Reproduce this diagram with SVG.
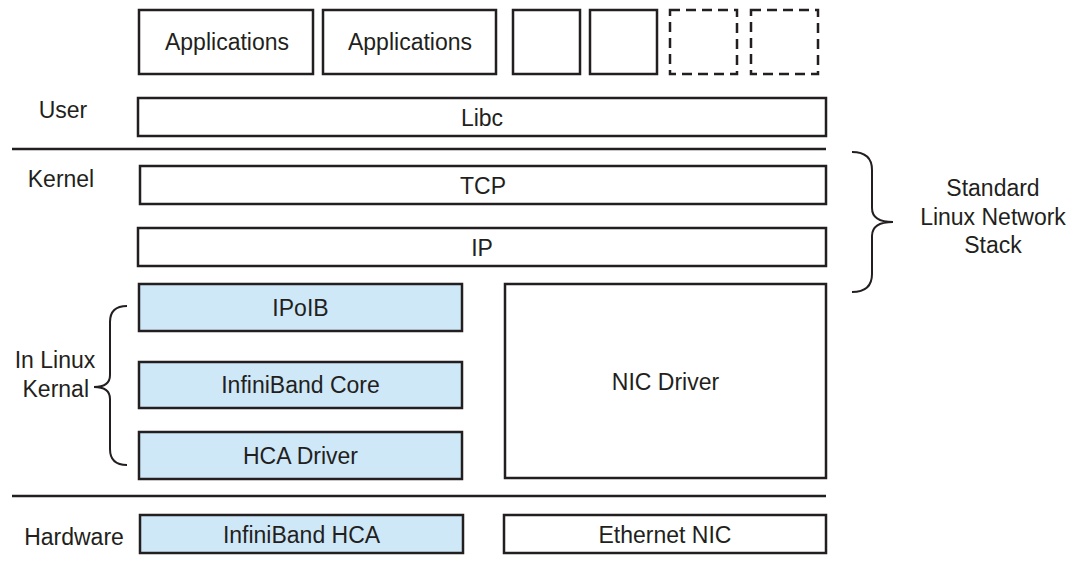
<svg xmlns="http://www.w3.org/2000/svg" width="1089" height="561" viewBox="0 0 1089 561">
<style>
.box{fill:#ffffff;stroke:#231f20;stroke-width:2.5}
.blue{fill:#cfe8f8;stroke:#231f20;stroke-width:2.5}
.dash{fill:#ffffff;stroke:#231f20;stroke-width:2.5;stroke-dasharray:10 6}
.sep{stroke:#231f20;stroke-width:2.5;fill:none}
.brace{stroke:#231f20;stroke-width:2;fill:none}
text{font-family:"Liberation Sans",Arial,sans-serif;font-size:23px;fill:#231f20}
.c{text-anchor:middle}
.e{text-anchor:end}
</style>
<rect width="1089" height="561" fill="#ffffff"/>
<g id="separators">
<line class="sep" x1="12" y1="149" x2="826" y2="149"/>
<line class="sep" x1="12" y1="496" x2="826" y2="496"/>
</g>
<g id="labels">
<text class="c" x="63" y="118">User</text>
<text class="c" x="61" y="187">Kernel</text>
<text class="c" x="55" y="368">In Linux</text>
<text class="e" x="89" y="397">Kernal</text>
<text class="c" x="74" y="545">Hardware</text>
<text class="c" x="993" y="196">Standard</text>
<text class="c" x="993" y="225">Linux Network</text>
<text class="c" x="993" y="253">Stack</text>
</g>
<g id="app1"><rect class="box" x="139" y="10" width="174" height="64"/><text class="c" x="227" y="50">Applications</text></g>
<g id="app2"><rect class="box" x="323" y="10" width="173" height="64"/><text class="c" x="410" y="50">Applications</text></g>
<g id="app3"><rect class="box" x="513" y="10" width="67" height="64"/></g>
<g id="app4"><rect class="box" x="590" y="10" width="67" height="64"/></g>
<g id="app5"><rect class="dash" x="670" y="10" width="67" height="64"/></g>
<g id="app6"><rect class="dash" x="751" y="10" width="67" height="64"/></g>
<g id="libc"><rect class="box" x="138" y="98" width="688" height="38"/><text class="c" x="482" y="126">Libc</text></g>
<g id="tcp"><rect class="box" x="140" y="166" width="686" height="38"/><text class="c" x="483" y="194">TCP</text></g>
<g id="ip"><rect class="box" x="138" y="228" width="688" height="38"/><text class="c" x="482" y="256">IP</text></g>
<g id="ipoib"><rect class="blue" x="139" y="284" width="323" height="47"/><text class="c" x="300.5" y="316">IPoIB</text></g>
<g id="ibcore"><rect class="blue" x="139" y="362" width="323" height="46"/><text class="c" x="300.5" y="393">InfiniBand Core</text></g>
<g id="hcadriver"><rect class="blue" x="139" y="432" width="323" height="47"/><text class="c" x="300.5" y="464">HCA Driver</text></g>
<g id="nicdriver"><rect class="box" x="505" y="284" width="321" height="194"/><text class="c" x="665.5" y="390">NIC Driver</text></g>
<g id="ibhca"><rect class="blue" x="140" y="515" width="323" height="38"/><text class="c" x="301.5" y="543">InfiniBand HCA</text></g>
<g id="ethnic"><rect class="box" x="504" y="515" width="322" height="38"/><text class="c" x="665" y="543">Ethernet NIC</text></g>
<g id="braces">
<path class="brace" d="M852,152 Q872,152 872,170 L872,208 Q872,222 893,222 Q872,222 872,236 L872,274 Q872,292 852,292"/>
<path class="brace" d="M127,306 Q110,306 110,322 L110,375 Q110,387 94,387 Q110,387 110,399 L110,449 Q110,465 127,465"/>
</g>
</svg>
